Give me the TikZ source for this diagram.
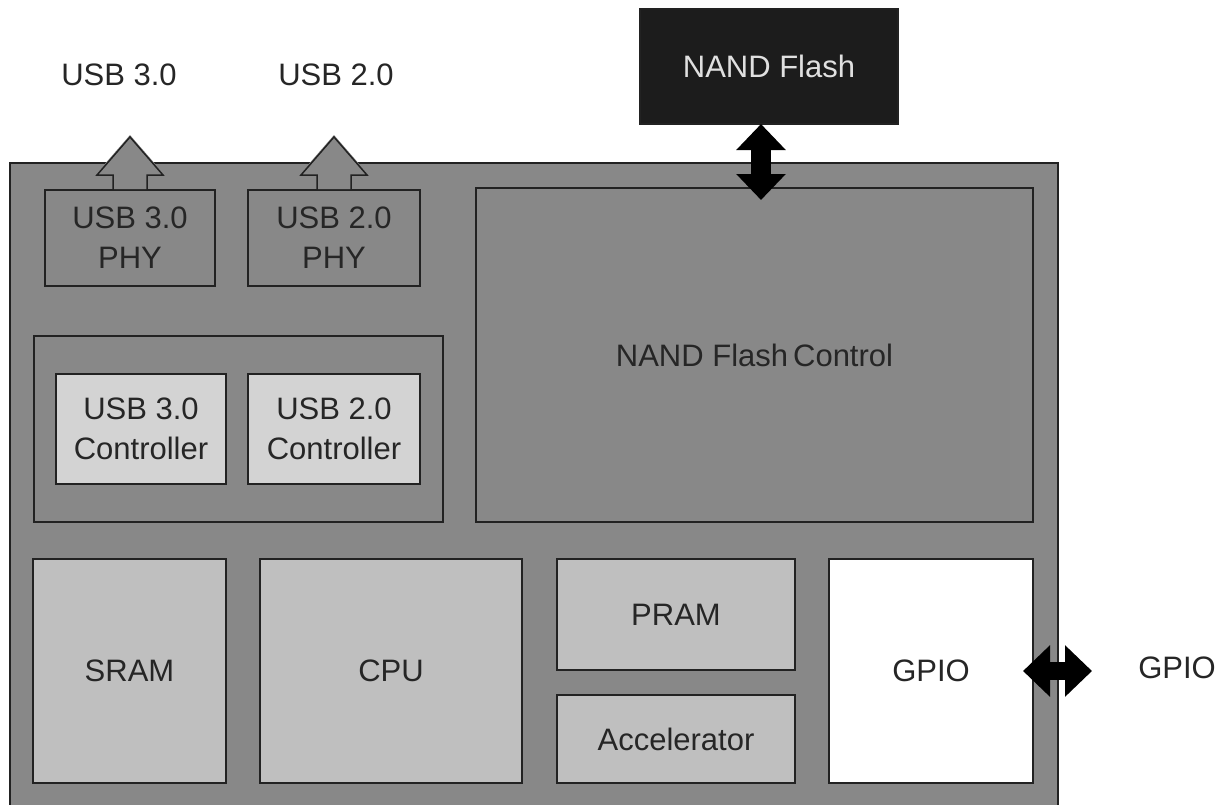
\documentclass[tikz,border=0pt]{standalone}
\usepackage{fontspec}
\setmainfont{Liberation Sans}
\usetikzlibrary{arrows.meta}
\definecolor{chipgray}{HTML}{888888}
\definecolor{blockgray}{HTML}{BFBFBF}
\definecolor{ctlgray}{HTML}{D3D3D3}
\definecolor{nandblack}{HTML}{1C1C1C}
\definecolor{edge}{HTML}{222222}
\begin{document}
\begin{tikzpicture}[x=1pt,y=-1pt,
  every node/.style={font=\fontsize{31}{40}\selectfont, text=black!85},
  blk/.style={draw=edge, line width=1.5pt, inner sep=0pt, outer sep=0pt, align=center},
  grayblk/.style={blk, fill=blockgray},
  ctlblk/.style={blk, fill=ctlgray},
  outline/.style={blk},
  dblarrow/.style={line width=20pt, {Triangle[width=48pt,length=26pt]}-{Triangle[width=48pt,length=26pt]}},
  upfill/.style={fill=chipgray},
  upline/.style={draw=edge, line width=1.5pt, line join=miter}
]
\useasboundingbox (0,0) rectangle (1225,804);
\clip (0,0) rectangle (1225,804);
\fill[white] (0,0) rectangle (1225,804);

% chip
\node[blk, fill=chipgray, minimum width=1048pt, minimum height=657pt] (chip) at (534,491.5) {};

% top labels
\node (usb3lbl) at (119,75) {USB 3.0};
\node (usb2lbl) at (336,75) {USB 2.0};

% NAND flash
\node[blk, fill=nandblack, text=white!88!black, minimum width=258pt, minimum height=115pt] (nand) at (769,66.5) {NAND Flash};

% PHY boxes
\node[outline, minimum width=170pt, minimum height=96pt] (phy3) at (130,238) {USB 3.0\\PHY};
\node[outline, minimum width=172pt, minimum height=96pt] (phy2) at (334,238) {USB 2.0\\PHY};

% controller group
\node[outline, minimum width=409pt, minimum height=186pt] (grp) at (238.5,429) {};
\node[ctlblk, minimum width=170pt, minimum height=110pt] (ctl3) at (141,429) {USB 3.0\\Controller};
\node[ctlblk, minimum width=172pt, minimum height=110pt] (ctl2) at (334,429) {USB 2.0\\Controller};

% NAND flash control
\node[outline, minimum width=557pt, minimum height=334pt] (nfc) at (754.5,355) {NAND Flash\hspace{5pt}Control};

% bottom row
\node[grayblk, minimum width=193pt, minimum height=224pt] (sram) at (129.5,671) {SRAM};
\node[grayblk, minimum width=262pt, minimum height=224pt] (cpu) at (391,671) {CPU};
\node[grayblk, minimum width=238pt, minimum height=111pt] (pram) at (676,614.5) {PRAM};
\node[grayblk, minimum width=238pt, minimum height=88pt] (acc) at (676,739) {Accelerator};
\node[blk, fill=white, minimum width=204pt, minimum height=224pt] (gpio) at (931,671) {GPIO};
\node (gpiolbl) at (1177,668) {GPIO};

% USB up arrows (open into PHY boxes)
\foreach \p in {phy3, phy2}{
  \fill[upfill] ([xshift=-17pt,yshift=1pt]\p.north) -- ++(0,-16) -- ++(-16,0) -- ++(33,-38) -- ++(33,38) -- ++(-16,0) -- ++(0,16) -- cycle;
  \draw[upline] ([xshift=-17pt]\p.north) -- ++(0,-15) -- ++(-16,0) -- ++(33,-38) -- ++(33,38) -- ++(-16,0) -- ++(0,15);
}

% NAND double arrow
\coordinate (na) at ([xshift=-8pt]nand.south);
\coordinate (nb) at (na |- 0,200);
\draw[dblarrow] (na) -- (nb);

% GPIO double arrow
\coordinate (ga) at (1023,671);
\coordinate (gb) at (1092,671);
\draw[dblarrow, line width=18pt, {Triangle[width=50pt,length=27pt]}-{Triangle[width=50pt,length=27pt]}] (ga) -- (gb);
\end{tikzpicture}
\end{document}
